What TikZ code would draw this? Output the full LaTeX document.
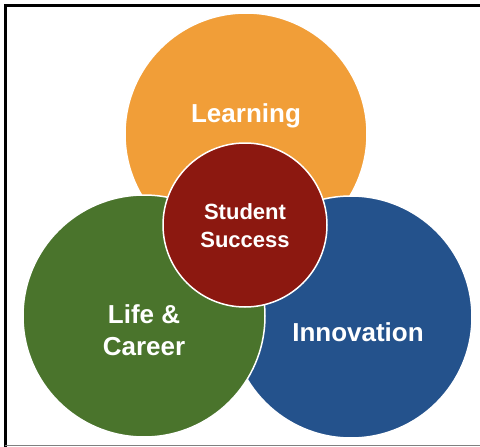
\documentclass[tikz,border=0pt]{standalone}
\usepackage{fontspec}
\setmainfont{Liberation Sans}
\usepackage{xcolor}
\usetikzlibrary{positioning}

\definecolor{learnorange}{RGB}{241,158,56}
\definecolor{lifegreen}{RGB}{74,116,44}
\definecolor{innoblue}{RGB}{36,82,140}
\definecolor{successred}{RGB}{140,24,16}

\begin{document}
\begin{tikzpicture}[
    x=1pt, y=-1pt,
    ring/.style={circle, draw=white, line width=1.5pt, inner sep=0pt, minimum size=242pt},
    core/.style={circle, draw=white, line width=1.5pt, inner sep=0pt, minimum size=164pt},
    big/.style={text=white, align=center, font=\bfseries\fontsize{26}{32}\selectfont},
    small/.style={text=white, align=center, font=\bfseries\fontsize{22}{28}\selectfont}
]
    \useasboundingbox (0,0) rectangle (480,447);

    % Frame
    \draw[black, line width=3pt] (5,447) -- (5,5) -- (480,5);
    \draw[gray, line width=0.8pt] (5,445) -- (480,445);

    % Outer circles
    \node[ring, fill=learnorange] (learn) at (246,134) {};
    \node[ring, fill=innoblue] (inno) at (351,317) {};
    \node[ring, fill=lifegreen] (life) at (144,316) {};

    % Centre
    \node[core, fill=successred] (success) at (245,225) {};

    % Labels
    \node[big] (learntxt) at (246,116) {Learning};
    \node[big] (innotxt) at (358,332) {Innovation};
    \node[big] (lifetxt) at (144,330) {Life \&\\Career};
    \node[small] (successtxt) at (245,226) {Student\\Success};

\end{tikzpicture}
\end{document}
